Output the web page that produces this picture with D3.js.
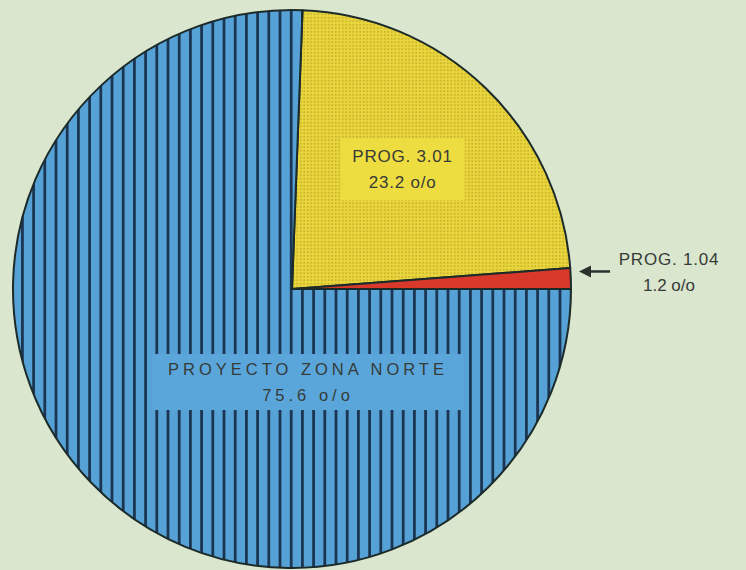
<!DOCTYPE html>
<html>
<head>
<meta charset="utf-8">
<script src="https://cdn.jsdelivr.net/npm/d3@7"></script>
<style>
  html, body { margin: 0; padding: 0; background: #dae6cd; }
  svg { display: block; }
  text { font-family: "Liberation Sans", Arial, sans-serif; fill: #363b38; }
</style>
</head>
<body>
<script>
// pie data
const names = ["PROG. 3.01", "PROG. 1.04", "PROYECTO ZONA NORTE"]
const shares = [23.2, 1.2, 75.6]
const shareText = ["23.2 o/o", "1.2 o/o", "75.6 o/o"]
const fills = ["url(#dots)", "#d8392b", "url(#stripes)"]

const width = 746
const height = 570
const cx = 292
const cy = 289
const radius = 279

const svg = d3.select("body").append("svg")
  .attr("width", width)
  .attr("height", height)

svg.append("rect").attr("width", width).attr("height", height).attr("fill", "#dae6cd")

const defs = svg.append("defs")

// vertical stripes for the big slice
const stripes = defs.append("pattern")
  .attr("id", "stripes")
  .attr("patternUnits", "userSpaceOnUse")
  .attr("x", cx - 3)
  .attr("width", 11.2)
  .attr("height", 10)
stripes.append("rect").attr("width", 11.2).attr("height", 10).attr("fill", "#56a2d6")
stripes.append("rect").attr("x", 0).attr("width", 2.8).attr("height", 10).attr("fill", "#1b3552")

// dot screen for the yellow slice
const dots = defs.append("pattern")
  .attr("id", "dots")
  .attr("patternUnits", "userSpaceOnUse")
  .attr("width", 3.5)
  .attr("height", 3.5)
dots.append("rect").attr("width", 3.5).attr("height", 3.5).attr("fill", "#e9d53c")
dots.append("circle").attr("cx", 1.75).attr("cy", 1.75).attr("r", 0.85).attr("fill", "#bfa92a")

const total = d3.sum(shares)
// the pie is turned so the small red slice ends on the horizontal
const start = Math.PI / 2 - (shares[0] + shares[1]) / total * 2 * Math.PI

const pie = d3.pie().sort(null)
  .startAngle(start)
  .endAngle(start + 2 * Math.PI)
const arcs = pie(shares)

const arc = d3.arc().innerRadius(0).outerRadius(radius)

const g = svg.append("g").attr("transform", `translate(${cx},${cy})`)

g.selectAll("path.slice")
  .data(arcs)
  .join("path")
  .attr("class", "slice")
  .attr("d", arc)
  .attr("fill", (d, i) => fills[i])
  .attr("stroke", "#1c2b2a")
  .attr("stroke-width", 2)
  .attr("stroke-linejoin", "round")

// label boxes: plain colour panels inside slices
function labelBox(x, y, w, h, color, lines, size, spacing) {
  g.append("rect")
    .attr("x", x - w / 2).attr("y", y - h / 2)
    .attr("width", w).attr("height", h)
    .attr("fill", color)
  lines.forEach((t, k) => {
    g.append("text")
      .attr("x", x)
      .attr("y", y + (k - (lines.length - 1) / 2) * 26)
      .attr("dy", "0.35em")
      .attr("text-anchor", "middle")
      .attr("font-size", size)
      .attr("letter-spacing", spacing)
      .text(t)
  })
}

const yc = d3.arc().innerRadius(158).outerRadius(158).centroid(arcs[0])
labelBox(yc[0] + 1, yc[1] - 6, 124, 62, "#eedd40", [names[0], shareText[0]], 17, 0.8)

labelBox(16, 93, 312, 56, "#5aa6da", [names[2], shareText[2]], 16.5, 4)

// outside label with arrow for the thin slice
const ry = d3.arc().innerRadius(radius).outerRadius(radius).centroid(arcs[1])[1] - 7
const ax = radius + 8
g.append("line")
  .attr("x1", ax + 31).attr("y1", ry)
  .attr("x2", ax + 6).attr("y2", ry)
  .attr("stroke", "#2a302c").attr("stroke-width", 2.5)
g.append("path")
  .attr("d", `M${ax},${ry} L${ax + 12},${ry - 6} L${ax + 12},${ry + 6} Z`)
  .attr("fill", "#2a302c")
g.append("text")
  .attr("x", ax + 90).attr("y", ry - 12)
  .attr("dy", "0.35em")
  .attr("text-anchor", "middle")
  .attr("font-size", 17)
  .attr("letter-spacing", 0.8)
  .text(names[1])
g.append("text")
  .attr("x", ax + 90).attr("y", ry + 14)
  .attr("dy", "0.35em")
  .attr("text-anchor", "middle")
  .attr("font-size", 17)
  .text(shareText[1])
</script>
</body>
</html>
